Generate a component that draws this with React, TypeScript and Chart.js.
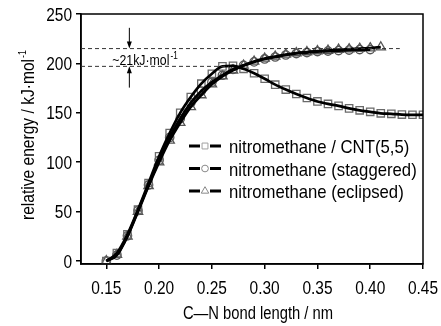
import { useEffect, useRef } from "react";
import { Chart, registerables } from "chart.js";
Chart.register(...registerables);

const FONT = '"Liberation Sans", Arial, sans-serif';
const SQUEEZE = 0.82;

const bondLengthCnt = [0.15, 0.16, 0.17, 0.18, 0.19, 0.2, 0.21, 0.22, 0.23, 0.24, 0.25, 0.26, 0.27, 0.28, 0.29, 0.3, 0.31, 0.32, 0.33, 0.34, 0.35, 0.36, 0.37, 0.38, 0.39, 0.4, 0.41, 0.42, 0.43, 0.44, 0.45];
const cntEnergy = [0, 8, 27, 52, 79, 106, 129.5, 150, 166, 179.5, 189.5, 197, 197.5, 194.5, 190, 184.5, 178.5, 173.5, 169, 165, 161.5, 159, 157, 154.5, 152.5, 151, 149.5, 149, 148.2, 148, 148];

const bondLengthStaggered = [0.15, 0.16, 0.17, 0.18, 0.19, 0.2, 0.21, 0.22, 0.23, 0.24, 0.25, 0.26, 0.27, 0.28, 0.29, 0.3, 0.31, 0.32, 0.33, 0.34, 0.35, 0.36, 0.37, 0.38, 0.39, 0.4];
const staggeredEnergy = [0, 6, 25.5, 51, 77, 102, 125, 144, 160, 172, 181, 188, 194, 198, 201.5, 204.5, 206.5, 208.5, 210, 211, 212, 212.5, 213, 213.5, 214, 214];

const bondLengthEclipsed = [0.15, 0.16, 0.17, 0.18, 0.19, 0.2, 0.21, 0.22, 0.23, 0.24, 0.25, 0.26, 0.27, 0.28, 0.29, 0.3, 0.31, 0.32, 0.33, 0.34, 0.35, 0.36, 0.37, 0.38, 0.39, 0.4, 0.41];
const eclipsedEnergy = [0, 6.5, 25, 50, 76, 100, 122, 140, 156, 168, 179, 187, 193, 198, 202, 205, 207, 209, 210.5, 211.5, 212.5, 213, 214, 214.5, 215, 215.5, 216.5];

const seriesLabels = ["nitromethane / CNT(5,5)", "nitromethane (staggered)", "nitromethane (eclipsed)"];
const xTicks = [0.15, 0.2, 0.25, 0.3, 0.35, 0.4, 0.45];
const yTicks = [0, 50, 100, 150, 200, 250];
const xTitle = "C\u2014N bond length / nm";
const yTitle = "relative energy / kJ\u00b7mol";
const yTitleSup = "-1";

const X_MIN = 0.126, X_MAX = 0.45, Y_MIN = -3, Y_MAX = 250;
const upperLevel = 215;
const lowerLevel = 197;
const upperDashEnd = 0.428;
const lowerDashEnd = 0.266;
const arrowX = 0.1718;
const arrowTop = 236;
const arrowBottom = 175.5;
const annotX = 0.1557;
const annotText = "~21kJ\u00b7mol";
const annotSup = "-1";

const MARKER_COLORS = ["#6a6a6a", "#555555", "#555555"];
const LEGEND_MARKER_COLORS = ["#a0a0a0", "#888888", "#888888"];
const STYLES = ["rect", "circle", "triangle"];
const RADII = [5.2, 4.2, 5.4];

function toPts(xs: number[], ys: number[]) {
  return xs.map((x, i) => ({ x, y: ys[i] }));
}

function sText(ctx: CanvasRenderingContext2D, text: string, x: number, y: number, size: number, align: CanvasTextAlign, baseline: CanvasTextBaseline, squeeze = SQUEEZE) {
  ctx.save();
  ctx.translate(x, y);
  ctx.scale(squeeze, 1);
  ctx.font = `${size}px ${FONT}`;
  ctx.textAlign = align;
  ctx.textBaseline = baseline;
  ctx.fillStyle = "#000";
  ctx.fillText(text, 0, 0);
  ctx.restore();
}

function sWidth(ctx: CanvasRenderingContext2D, text: string, size: number, squeeze = SQUEEZE) {
  ctx.save();
  ctx.font = `${size}px ${FONT}`;
  const w = ctx.measureText(text).width * squeeze;
  ctx.restore();
  return w;
}

function drawMarker(ctx: CanvasRenderingContext2D, style: string, x: number, y: number, r: number) {
  ctx.beginPath();
  if (style === "rect") {
    const s = Math.SQRT1_2 * r;
    ctx.rect(x - s, y - s, 2 * s, 2 * s);
  } else if (style === "circle") {
    ctx.arc(x, y, r, 0, Math.PI * 2);
  } else {
    let a = 0;
    ctx.moveTo(x + Math.sin(a) * r, y - Math.cos(a) * r);
    a += (2 * Math.PI) / 3;
    ctx.lineTo(x + Math.sin(a) * r, y - Math.cos(a) * r);
    a += (2 * Math.PI) / 3;
    ctx.lineTo(x + Math.sin(a) * r, y - Math.cos(a) * r);
    ctx.closePath();
  }
  ctx.stroke();
}

const overlay = {
  id: "overlay",
  afterDatasetsDraw(chart: any) {
    const { ctx, chartArea: ca, scales } = chart;
    const xs = scales.x, ys = scales.y;
    ctx.save();
    // box
    ctx.strokeStyle = "#000";
    ctx.lineWidth = 1.5;
    ctx.strokeRect(ca.left, ca.top, ca.right - ca.left, ca.bottom - ca.top);

    // tick labels
    xs.ticks.forEach((t: any) => {
      sText(ctx, Number(t.value).toFixed(2), xs.getPixelForValue(t.value), ca.bottom + 30, 18, "center", "alphabetic", 0.86);
    });
    ys.ticks.forEach((t: any) => {
      sText(ctx, String(t.value), ca.left - 9, ys.getPixelForValue(t.value) + 6.5, 18, "right", "alphabetic", 0.86);
    });

    // x title
    sText(ctx, xTitle, (ca.left + ca.right) / 2 + 6, ca.bottom + 54.5, 18, "center", "alphabetic");

    // y title
    {
      const mw = sWidth(ctx, yTitle, 19);
      const sw = sWidth(ctx, yTitleSup, 11);
      const total = mw + sw + 1;
      const cy = (ca.top + ca.bottom) / 2 - 4;
      ctx.save();
      ctx.translate(34, cy);
      ctx.rotate(-Math.PI / 2);
      sText(ctx, yTitle, -total / 2, 0, 19, "left", "alphabetic");
      sText(ctx, yTitleSup, -total / 2 + mw + 1, -8.5, 11, "left", "alphabetic");
      ctx.restore();
    }

    // dashed levels
    ctx.setLineDash([4, 3]);
    ctx.lineWidth = 1;
    ctx.strokeStyle = "#333";
    const yU = ys.getPixelForValue(upperLevel);
    const yL = ys.getPixelForValue(lowerLevel);
    ctx.beginPath();
    ctx.moveTo(ca.left, yU);
    ctx.lineTo(xs.getPixelForValue(upperDashEnd), yU);
    ctx.moveTo(ca.left, yL);
    ctx.lineTo(xs.getPixelForValue(lowerDashEnd), yL);
    ctx.stroke();
    ctx.setLineDash([]);

    // arrows
    const ax = xs.getPixelForValue(arrowX);
    const yT = ys.getPixelForValue(arrowTop);
    const yB = ys.getPixelForValue(arrowBottom);
    ctx.strokeStyle = "#000";
    ctx.fillStyle = "#000";
    ctx.lineWidth = 1;
    ctx.beginPath();
    ctx.moveTo(ax, yT);
    ctx.lineTo(ax, yU - 4);
    ctx.moveTo(ax, yB);
    ctx.lineTo(ax, yL + 4);
    ctx.stroke();
    ctx.beginPath();
    ctx.moveTo(ax, yU);
    ctx.lineTo(ax - 2.5, yU - 7);
    ctx.lineTo(ax + 2.5, yU - 7);
    ctx.closePath();
    ctx.moveTo(ax, yL);
    ctx.lineTo(ax - 2.5, yL + 7);
    ctx.lineTo(ax + 2.5, yL + 7);
    ctx.closePath();
    ctx.fill();

    // annotation text
    {
      const tx = xs.getPixelForValue(annotX);
      const tb = yL - 1;
      sText(ctx, annotText, tx, tb, 15, "left", "alphabetic");
      const tw = sWidth(ctx, annotText, 15);
      sText(ctx, annotSup, tx + tw + 1, tb - 6, 10, "left", "alphabetic");
    }

    // legend
    const lx = ca.left + 108;
    const ly0 = ca.top + 132;
    for (let i = 0; i < seriesLabels.length; i++) {
      const y = ly0 + i * 22.5;
      ctx.strokeStyle = "#000";
      ctx.lineWidth = 3;
      ctx.beginPath();
      ctx.moveTo(lx, y);
      ctx.lineTo(lx + 11, y);
      ctx.moveTo(lx + 21, y);
      ctx.lineTo(lx + 32, y);
      ctx.stroke();
      ctx.strokeStyle = LEGEND_MARKER_COLORS[i];
      ctx.lineWidth = 1;
      drawMarker(ctx, STYLES[i], lx + 16, y, RADII[i] * 0.8);
      sText(ctx, seriesLabels[i], lx + 40, y + 7, 19, "left", "alphabetic", 0.88);
    }
    ctx.restore();
  },
};

export default function App() {
  const ref = useRef<HTMLCanvasElement>(null);
  useEffect(() => {
    if (!ref.current) return;
    const seriesData = [
      toPts(bondLengthCnt, cntEnergy),
      toPts(bondLengthStaggered, staggeredEnergy),
      toPts(bondLengthEclipsed, eclipsedEnergy),
    ];
    const markerSets = seriesData.map((d, i) => ({
      label: seriesLabels[i] + " markers",
      data: d,
      showLine: false,
      pointStyle: STYLES[i],
      pointRadius: RADII[i],
      pointBorderWidth: 1.3,
      pointBorderColor: MARKER_COLORS[i],
      pointBackgroundColor: "rgba(0,0,0,0)",
      order: 2,
    }));
    const lineSets = seriesData.map((d, i) => ({
      label: seriesLabels[i],
      data: d,
      showLine: true,
      borderColor: "#000",
      borderWidth: 2.7,
      pointRadius: 0,
      cubicInterpolationMode: "monotone",
      fill: false,
      order: 1,
    }));
    const chart = new Chart(ref.current, {
      type: "scatter",
      data: { datasets: [...markerSets, ...lineSets] as any },
      plugins: [overlay],
      options: {
        responsive: false,
        animation: false,
        events: [],
        layout: { padding: { top: 14, right: 18, left: 0, bottom: 0 } },
        plugins: { legend: { display: false }, tooltip: { enabled: false } },
        scales: {
          x: {
            type: "linear",
            min: X_MIN,
            max: X_MAX,
            afterBuildTicks: (s: any) => { s.ticks = xTicks.map((v) => ({ value: v })); },
            afterFit: (s: any) => { s.height = 62; },
            ticks: { display: false, autoSkip: false },
            grid: { drawOnChartArea: false, drawTicks: true, tickLength: 5, color: "#000", lineWidth: 1.5 },
            border: { color: "#000", width: 1.5 },
          },
          y: {
            type: "linear",
            min: Y_MIN,
            max: Y_MAX,
            afterBuildTicks: (s: any) => { s.ticks = yTicks.map((v) => ({ value: v })); },
            afterFit: (s: any) => { s.width = 81; },
            ticks: { display: false, autoSkip: false },
            grid: { drawOnChartArea: false, drawTicks: true, tickLength: 5, color: "#000", lineWidth: 1.5 },
            border: { color: "#000", width: 1.5 },
          },
        },
      } as any,
    });
    return () => chart.destroy();
  }, []);
  return (
    <div style={{ position: "fixed", left: 0, top: 0, width: 441, height: 326, background: "#fff" }}>
      <canvas ref={ref} width={441} height={326} style={{ width: 441, height: 326 }} />
    </div>
  );
}
